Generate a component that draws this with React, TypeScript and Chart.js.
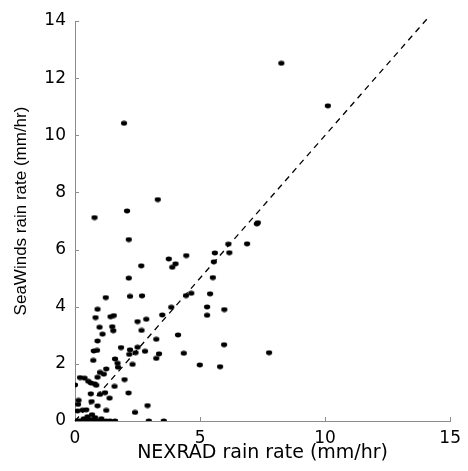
import React, { useEffect, useRef } from "react";
import { Chart, registerables } from "chart.js";

Chart.register(...registerables);

// NEXRAD (x) vs SeaWinds (y) rain rate, mm/hr
const nexradRate = [
  1.96, 0.78, 2.08, 3.31, 2.15, 8.25, 10.11, 7.31, 7.27, 6.88,
  6.13, 6.17, 5.59, 5.55, 4.45, 3.75, 4.02, 3.89, 2.65, 2.15,
  5.51, 5.4, 4.65, 4.44, 2.68, 2.2, 1.23, 5.28, 5.28, 5.97,
  3.85, 3.49, 0.9, 0.82, 1.42, 1.55, 0.98, 1.49, 1.53, 1.1,
  2.5, 2.85, 2.66, 4.12, 3.25, 5.96, 0.9, 0.75, 0.88, 1.84,
  2.5, 2.2, 2.42, 2.17, 2.8, 3.36, 3.25, 4.35, 4.99, 5.8,
  7.76, 1.6, 1.7, 1.72, 2.3, 0.73, 1.25, 1.0, 1.15, 0.9,
  0.2, 0.38, 0.53, 0.63, 0.78, 0.85, 0.0, 1.58, 1.98, 0.63,
  1.0, 1.2, 1.38, 2.14, 0.9, 0.66, 0.14, 0.12, 0.1, 0.3,
  0.45, 0.68, 0.5, 1.25, 2.9, 2.4, 0.0, 0.1, 0.2, 0.3,
  0.42, 0.55, 0.68, 0.8, 0.95, 1.1, 1.25, 1.4, 1.6, 2.95,
  3.55, 0.35, 0.8, 1.05, 0.6,
];
const seawindsRate = [
  10.42, 7.12, 7.35, 7.75, 6.35, 12.52, 11.03, 6.94, 6.9, 6.2,
  6.19, 5.89, 5.88, 5.57, 5.79, 5.67, 5.5, 5.38, 5.43, 5.0,
  5.02, 4.45, 4.47, 4.39, 4.38, 4.36, 4.32, 3.99, 3.7, 3.9,
  3.98, 3.71, 3.91, 3.62, 3.65, 3.69, 3.28, 3.3, 3.16, 3.04,
  3.48, 3.56, 3.17, 3.01, 2.86, 2.67, 2.8, 2.45, 2.47, 2.57,
  2.58, 2.49, 2.39, 2.33, 2.44, 2.35, 2.19, 2.37, 1.96, 1.9,
  2.39, 2.17, 2.02, 1.88, 1.98, 2.12, 1.82, 1.7, 1.64, 1.53,
  1.52, 1.5, 1.39, 1.33, 1.3, 1.25, 1.26, 1.21, 1.45, 0.95,
  0.93, 0.99, 0.8, 0.98, 0.53, 0.68, 0.72, 0.58, 0.35, 0.38,
  0.39, 0.22, 0.15, 0.37, 0.54, 0.3, 0.0, 0.0, 0.0, 0.0,
  0.0, 0.0, 0.0, 0.0, 0.0, 0.0, 0.0, 0.0, 0.0, 0.0,
  0.0, 0.08, 0.12, 0.08, 0.05,
];

// y = x reference line end points
const diagonal = [0, 14.15];

const xRange = [0, 15];
const xStep = 5;
const yRange = [0, 14];
const yStep = 2;

const xTitle = "NEXRAD rain rate (mm/hr)";
const yTitle = "SeaWinds rain rate (mm/hr)";

const AXIS_COLOR = "#8c8c8c";

export default function App() {
  const canvasRef = useRef<HTMLCanvasElement | null>(null);

  useEffect(() => {
    const canvas = canvasRef.current;
    if (!canvas) return;

    // slightly wide elliptical dot, like the reference
    const dot = document.createElement("canvas");
    dot.width = 8;
    dot.height = 6;
    const dctx = dot.getContext("2d")!;
    dctx.fillStyle = "#000";
    dctx.beginPath();
    dctx.ellipse(4, 3, 3.1, 2.4, 0, 0, Math.PI * 2);
    dctx.fill();

    const inwardTicks = {
      id: "inwardTicks",
      beforeDatasetsDraw(chart: any) {
        const { ctx, chartArea, scales } = chart;
        const x = scales.x;
        const y = scales.y;
        ctx.save();
        ctx.strokeStyle = AXIS_COLOR;
        ctx.lineWidth = 1;
        ctx.beginPath();
        x.ticks.forEach((t: any) => {
          const px = Math.round(x.getPixelForValue(t.value)) + 0.5;
          ctx.moveTo(px, chartArea.bottom);
          ctx.lineTo(px, chartArea.bottom - 4);
        });
        y.ticks.forEach((t: any) => {
          const py = Math.round(y.getPixelForValue(t.value)) + 0.5;
          ctx.moveTo(chartArea.left, py);
          ctx.lineTo(chartArea.left + 4, py);
        });
        ctx.stroke();
        ctx.restore();
      },
    };

    const yTitlePlugin = {
      id: "yTitlePlugin",
      afterDraw(chart: any) {
        const { ctx, chartArea } = chart;
        ctx.save();
        ctx.translate(chartArea.left - 54, (chartArea.top + chartArea.bottom) / 2 - 10);
        ctx.rotate(-Math.PI / 2);
        ctx.font = '17px "Liberation Sans", Arial, sans-serif';
        ctx.fillStyle = "#000";
        ctx.textAlign = "center";
        ctx.textBaseline = "middle";
        ctx.fillText(yTitle, 0, 0);
        ctx.restore();
      },
    };

    const chart = new Chart(canvas, {
      type: "scatter",
      data: {
        datasets: [
          {
            label: "points",
            data: nexradRate.map((v, i) => ({ x: v, y: seawindsRate[i] })),
            pointStyle: dot as any,
            pointRadius: 3,
            backgroundColor: "#000",
            borderColor: "#000",
          },
          {
            type: "line" as any,
            label: "y = x",
            data: diagonal.map((v) => ({ x: v, y: v })),
            borderColor: "#000",
            borderWidth: 1.3,
            borderDash: [6, 5],
            pointRadius: 0,
            showLine: true,
            fill: false,
            clip: false as any,
          },
        ],
      },
      options: {
        responsive: false,
        animation: false,
        layout: { padding: { left: 0, right: 14, top: 21, bottom: 0 } },
        plugins: {
          legend: { display: false },
          tooltip: { enabled: false },
        },
        scales: {
          x: {
            type: "linear",
            min: xRange[0],
            max: xRange[1],
            grid: { display: false, drawTicks: false, tickLength: 0 },
            border: { display: true, color: AXIS_COLOR, width: 1 },
            ticks: {
              stepSize: xStep,
              color: "#000",
              padding: 7,
              maxRotation: 0,
              font: { family: '"DejaVu Sans", sans-serif', size: 17 },
            },
            title: {
              display: true,
              text: xTitle,
              color: "#000",
              padding: { top: 0, bottom: 7 },
              font: { family: '"DejaVu Sans", sans-serif', size: 19 },
            },
            afterFit: (s: any) => {
              s.height = 50;
            },
          },
          y: {
            type: "linear",
            min: yRange[0],
            max: yRange[1],
            grid: { display: false, drawTicks: false, tickLength: 0 },
            border: { display: true, color: AXIS_COLOR, width: 1 },
            ticks: {
              stepSize: yStep,
              color: "#000",
              padding: 9,
              font: { family: '"DejaVu Sans", sans-serif', size: 17 },
            },
            afterFit: (s: any) => {
              s.width = 75;
            },
          },
        },
      },
      plugins: [inwardTicks, yTitlePlugin],
    });

    return () => chart.destroy();
  }, []);

  return (
    <div style={{ position: "absolute", left: 0, top: 0, width: 468, height: 471, background: "#fff" }}>
      <canvas ref={canvasRef} width={468} height={471} style={{ display: "block" }} />
    </div>
  );
}
